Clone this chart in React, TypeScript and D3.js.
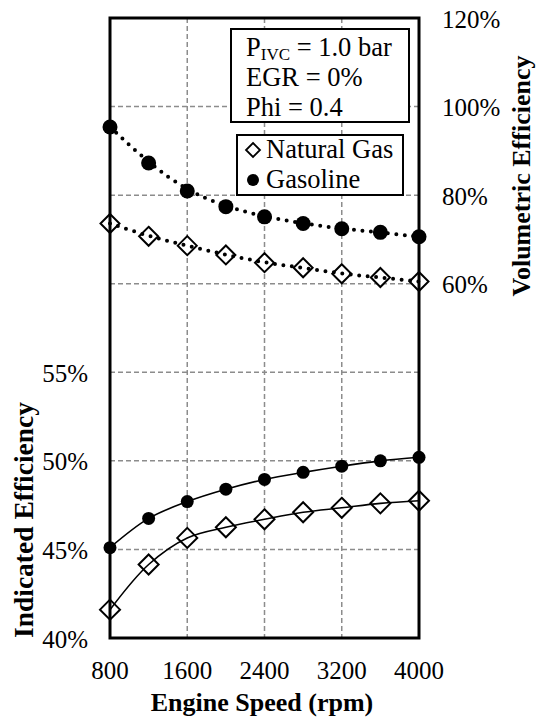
import React from "react";
import * as d3 from "d3";

// Engine speed sweep (rpm)
const speeds = [800, 1200, 1600, 2000, 2400, 2800, 3200, 3600, 4000];

// Indicated efficiency (%), left axis
const ngIndicated = [41.6, 44.15, 45.65, 46.25, 46.7, 47.1, 47.35, 47.6, 47.75];
const gasIndicated = [45.1, 46.75, 47.7, 48.4, 48.95, 49.35, 49.7, 50.0, 50.2];

// Volumetric efficiency (%), right axis
const ngVolumetric = [73.6, 70.7, 68.6, 66.5, 64.75, 63.6, 62.25, 61.4, 60.5];
const gasVolumetric = [95.4, 87.25, 80.95, 77.4, 75.1, 73.6, 72.4, 71.6, 70.6];

// Axis ticks
const xTicks = [800, 1600, 2400, 3200, 4000];
const xGrid = [1600, 2400, 3200];
const leftTicks = [40, 45, 50, 55];
const leftGrid = [45, 50, 55, 60, 65, 70];
const rightTicks = [60, 80, 100, 120];

// Condition annotation and legend text
const conditionLines = ["EGR = 0%", "Phi = 0.4"];
const legendNames = ["Natural Gas", "Gasoline"];

const W = 537;
const H = 724;
const plot = { left: 110, right: 419, top: 18, bottom: 638 };
const FONT = "Liberation Serif, Times New Roman, DejaVu Serif, serif";

export default function App() {
  const x = d3.scaleLinear().domain([800, 4000]).range([plot.left, plot.right]);
  const yL = d3.scaleLinear().domain([40, 75]).range([plot.bottom, plot.top]);
  const yR = d3.scaleLinear().domain([-20, 120]).range([plot.bottom, plot.top]);

  const solid = (vals: number[]) =>
    d3
      .line<number>()
      .x((_, i) => x(speeds[i]))
      .y((v) => yL(v))
      .curve(d3.curveCatmullRom.alpha(0.5))(vals) || "";

  const trend = (vals: number[]) =>
    d3
      .line<number>()
      .x((_, i) => x(speeds[i]))
      .y((v) => yR(v))
      .curve(d3.curveBasis)(vals) || "";

  const diamond = (cx: number, cy: number, r: number) =>
    `M${cx},${cy - r}L${cx + r},${cy}L${cx},${cy + r}L${cx - r},${cy}Z`;

  const gridStyle = { stroke: "#8c8c8c", strokeWidth: 1.5, strokeDasharray: "5 3" };

  return (
    <svg
      width={W}
      height={H}
      style={{ position: "absolute", left: 0, top: 0, background: "#fff", fontFamily: FONT }}
    >
      {/* grid */}
      {leftGrid.map((v) => (
        <line key={"h" + v} x1={plot.left} x2={plot.right} y1={yL(v)} y2={yL(v)} {...gridStyle} />
      ))}
      {xGrid.map((v) => (
        <line key={"v" + v} x1={x(v)} x2={x(v)} y1={plot.top} y2={plot.bottom} {...gridStyle} />
      ))}

      {/* markers */}
      {speeds.map((s, i) => (
        <circle key={"gv" + s} cx={x(s)} cy={yR(gasVolumetric[i])} r={7.5} fill="#000" />
      ))}
      {speeds.map((s, i) => (
        <path
          key={"nv" + s}
          d={diamond(x(s), yR(ngVolumetric[i]), 9.5)}
          fill="#fff"
          stroke="#000"
          strokeWidth={2}
        />
      ))}
      {speeds.map((s, i) => (
        <circle key={"gi" + s} cx={x(s)} cy={yL(gasIndicated[i])} r={6.5} fill="#000" />
      ))}
      {speeds.map((s, i) => (
        <path
          key={"ni" + s}
          d={diamond(x(s), yL(ngIndicated[i]), 10)}
          fill="#fff"
          stroke="#000"
          strokeWidth={2}
        />
      ))}

      {/* lines */}
      <path d={solid(gasIndicated)} fill="none" stroke="#000" strokeWidth={1.6} />
      <path d={solid(ngIndicated)} fill="none" stroke="#000" strokeWidth={1.6} />
      <path
        d={trend(gasVolumetric)}
        fill="none"
        stroke="#000"
        strokeWidth={4}
        strokeLinecap="round"
        strokeDasharray="0 8.5"
      />
      <path
        d={trend(ngVolumetric)}
        fill="none"
        stroke="#000"
        strokeWidth={4}
        strokeLinecap="round"
        strokeDasharray="0 8.5"
      />

      {/* frame */}
      <rect
        x={plot.left}
        y={plot.top}
        width={plot.right - plot.left}
        height={plot.bottom - plot.top}
        fill="none"
        stroke="#000"
        strokeWidth={3}
      />

      {/* tick labels */}
      {xTicks.map((v) => (
        <text key={"xt" + v} x={x(v)} y={679} textAnchor="middle" fontSize={25}>
          {v}
        </text>
      ))}
      {leftTicks.map((v) => (
        <text key={"lt" + v} x={88} y={yL(v) + 9.5} textAnchor="end" fontSize={25}>
          {v}%
        </text>
      ))}
      {rightTicks.map((v) => (
        <text key={"rt" + v} x={442} y={yR(v) + 9.5} textAnchor="start" fontSize={25}>
          {v}%
        </text>
      ))}

      {/* axis titles */}
      <text x={262} y={711} textAnchor="middle" fontSize={26} fontWeight="bold">
        Engine Speed (rpm)
      </text>
      <text
        transform="translate(33,520) rotate(-90)"
        textAnchor="middle"
        fontSize={27.5}
        fontWeight="bold"
      >
        Indicated Efficiency
      </text>
      <text
        transform="translate(530,176) rotate(-90)"
        textAnchor="middle"
        fontSize={26}
        fontWeight="bold"
      >
        Volumetric Efficiency
      </text>

      {/* operating conditions box */}
      <rect x={231} y={29} width={178} height={93} fill="#fff" stroke="#000" strokeWidth={2} />
      <text x={246} y={56} fontSize={26.5}>
        P
        <tspan fontSize={17} dy={4}>IVC</tspan>
        <tspan dy={-4}> = 1.0 bar</tspan>
      </text>
      {conditionLines.map((t, i) => (
        <text key={t} x={246} y={86 + i * 29.5} fontSize={26.5}>
          {t}
        </text>
      ))}

      {/* legend */}
      <rect x={237} y={135} width={166} height={60} fill="#fff" stroke="#000" strokeWidth={2} />
      <path d={diamond(253, 150, 7)} fill="#fff" stroke="#000" strokeWidth={1.8} />
      <circle cx={253} cy={180} r={6} fill="#000" />
      <text x={266} y={158} fontSize={26.5}>
        {legendNames[0]}
      </text>
      <text x={266} y={188} fontSize={26.5}>
        {legendNames[1]}
      </text>
    </svg>
  );
}
